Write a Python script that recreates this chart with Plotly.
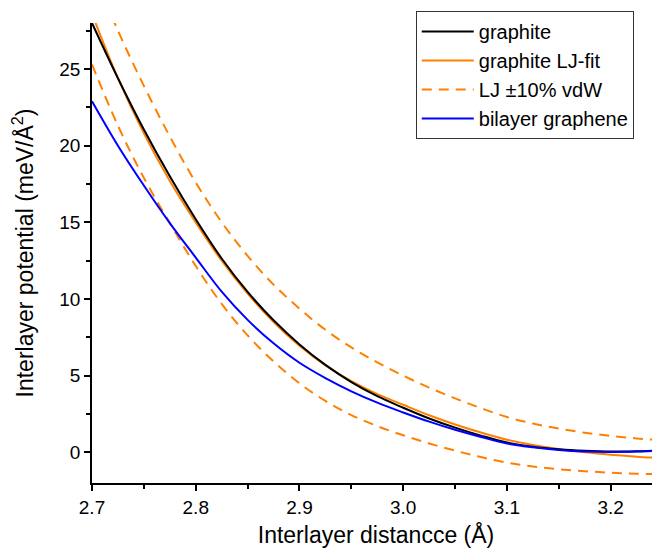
import plotly.graph_objects as go

FONT = "Arial, Liberation Sans, sans-serif"
ORANGE = "#ff8000"
BLUE = "#0000ff"

# interlayer distance (Å)
distance = [2.700, 2.725, 2.750, 2.775, 2.800, 2.825, 2.850, 2.875, 2.900, 2.925,
            2.950, 2.975, 3.000, 3.025, 3.050, 3.075, 3.100, 3.125, 3.150, 3.175,
            3.200, 3.225, 3.250]

# interlayer potential (meV/Å^2)
graphite = [28.0, 24.4, 21.05, 18.0, 15.2, 12.64, 10.46, 8.61, 7.04, 5.7,
            4.58, 3.66, 2.91, 2.21, 1.61, 1.09, 0.64, 0.37, 0.2, 0.1,
            0.05, 0.07, 0.13]
lj_fit = [28.6, 24.4, 20.8, 17.7, 15.0, 12.5, 10.35, 8.5, 6.95, 5.67,
          4.64, 3.8, 3.1, 2.42, 1.82, 1.29, 0.82, 0.48, 0.21, 0.01,
          -0.15, -0.28, -0.38]
lj_plus = [31.5, 27.5, 23.9, 20.6, 17.6, 15.01, 12.81, 10.94, 9.37, 7.99,
           6.84, 5.87, 5.0, 4.22, 3.52, 2.88, 2.3, 1.88, 1.55, 1.28,
           1.07, 0.91, 0.78]
lj_minus = [25.3, 21.3, 17.9, 14.95, 12.15, 9.68, 7.63, 5.93, 4.5, 3.35,
            2.43, 1.71, 1.11, 0.58, 0.11, -0.31, -0.67, -0.92, -1.1, -1.23,
            -1.33, -1.39, -1.43]
bilayer = [22.9, 20.0, 17.4, 14.95, 12.7, 10.48, 8.64, 7.11, 5.84, 4.84,
           3.98, 3.24, 2.6, 2.0, 1.47, 1.0, 0.58, 0.33, 0.15, 0.05,
           0.02, 0.05, 0.12]

fig = go.Figure()

dash_line = dict(color=ORANGE, width=2, dash="10px,7px")
fig.add_trace(go.Scatter(x=distance, y=lj_plus, mode="lines", name="LJ ±10% vdW",
                         line=dash_line, line_shape="spline", legendrank=3,
                         legendgroup="lj"))
fig.add_trace(go.Scatter(x=distance, y=lj_minus, mode="lines", name="LJ ±10% vdW",
                         line=dash_line, line_shape="spline", showlegend=False,
                         legendgroup="lj"))
fig.add_trace(go.Scatter(x=distance, y=lj_fit, mode="lines", name="graphite LJ-fit",
                         line=dict(color=ORANGE, width=2), line_shape="spline",
                         legendrank=2))
fig.add_trace(go.Scatter(x=distance, y=graphite, mode="lines", name="graphite",
                         line=dict(color="black", width=2), line_shape="spline",
                         legendrank=1))
fig.add_trace(go.Scatter(x=distance, y=bilayer, mode="lines", name="bilayer graphene",
                         line=dict(color=BLUE, width=2), line_shape="spline",
                         legendrank=4))

axis_common = dict(
    showline=True, linecolor="black", linewidth=1.5,
    ticks="outside", ticklen=6, tickwidth=1.5, tickcolor="black",
    showgrid=False, zeroline=False, mirror=False,
    tickfont=dict(family=FONT, size=19, color="black"),
)

# the page body has an 8px margin, so the figure is 8px smaller than the window
fig.update_layout(
    width=652, height=545,
    margin=dict(l=84, r=0, t=15, b=70),
    paper_bgcolor="white", plot_bgcolor="white",
    font=dict(family=FONT, color="black"),
    xaxis=dict(
        **axis_common,
        range=[2.7, 3.2475], dtick=0.1, tick0=2.7, tickformat=".1f",
        minor=dict(dtick=0.05, ticks="outside", ticklen=4, tickcolor="black", tickwidth=1.5),
        title=dict(text="Interlayer distancce (Å)", font=dict(family=FONT, size=23),
                   standoff=10),
    ),
    yaxis=dict(
        **axis_common,
        range=[-2, 28], dtick=5, tick0=0,
        minor=dict(dtick=2.5, ticks="outside", ticklen=4, tickcolor="black", tickwidth=1.5),
        title=dict(text="Interlayer potential (meV/Å<sup>2</sup>)",
                   font=dict(family=FONT, size=23), standoff=21),
    ),
    legend=dict(
        x=0.570, y=1.026, xanchor="left", yanchor="top",
        bgcolor="white", bordercolor="#333333", borderwidth=1,
        font=dict(family=FONT, size=20, color="black"),
        traceorder="normal", itemwidth=52, tracegroupgap=0,
    ),
    showlegend=True,
)

fig.write_html("out.html")
